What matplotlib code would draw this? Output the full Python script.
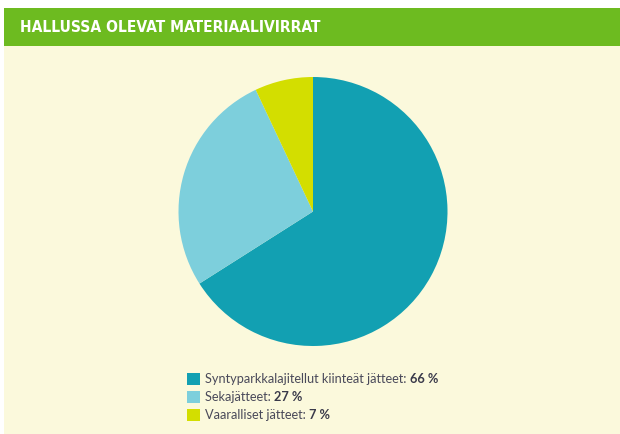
import matplotlib.pyplot as plt
from matplotlib.patches import Rectangle

labels = ['Syntyparkkalajitellut kiinteät jätteet', 'Sekajätteet', 'Vaaralliset jätteet']
values = [66, 27, 7]
colors = ['#12a0b2', '#7dcfdc', '#d3de00']
title = 'HALLUSSA OLEVAT MATERIAALIVIRRAT'

fig = plt.figure(figsize=(6.2, 4.34), dpi=100)
fig.patch.set_facecolor('white')

# background panels
fig.patches.append(Rectangle((4/620, 0), 1, 1 - 46/434, transform=fig.transFigure,
                             facecolor='#fbf9dc', edgecolor='none', zorder=-2))
fig.patches.append(Rectangle((4/620, 1 - 46/434), 1, 38/434, transform=fig.transFigure,
                             facecolor='#6dbb20', edgecolor='none', zorder=-2))
fig.text(20/620, 1 - 27/434, title, color='white', fontsize=11.2, fontweight='bold',
         fontstretch='condensed', va='center', ha='left', family='DejaVu Sans')

# pie
cx, cy, r = 313, 211.5, 134.5
ax = fig.add_axes([(cx - r)/620, 1 - (cy + r)/434, 2*r/620, 2*r/434])
ax.pie(values, colors=colors, startangle=90, counterclock=False,
       wedgeprops=dict(linewidth=0))
ax.set_aspect('auto')
ax.set_xlim(-1, 1)
ax.set_ylim(-1, 1)
ax.axis('off')

# legend
ys = [379, 397, 415]
for lab, val, col, y in zip(labels, values, colors, ys):
    fig.patches.append(Rectangle((187/620, 1 - (y + 6)/434), 13/620, 12/434,
                                 transform=fig.transFigure, facecolor=col, edgecolor='none'))
    t = fig.text(205/620, 1 - y/434, lab + ': ', color='#4a4a5a', fontsize=9.2,
                 va='center', ha='left', family='Lato')
    fig.canvas.draw()
    bb = t.get_window_extent()
    fig.text(bb.x1/620, 1 - y/434, f'{val} %', color='#3a3a4a', fontsize=9.2,
             fontweight='bold', va='center', ha='left', family='Lato')

fig.savefig('out.png', dpi=100, facecolor=fig.get_facecolor())
